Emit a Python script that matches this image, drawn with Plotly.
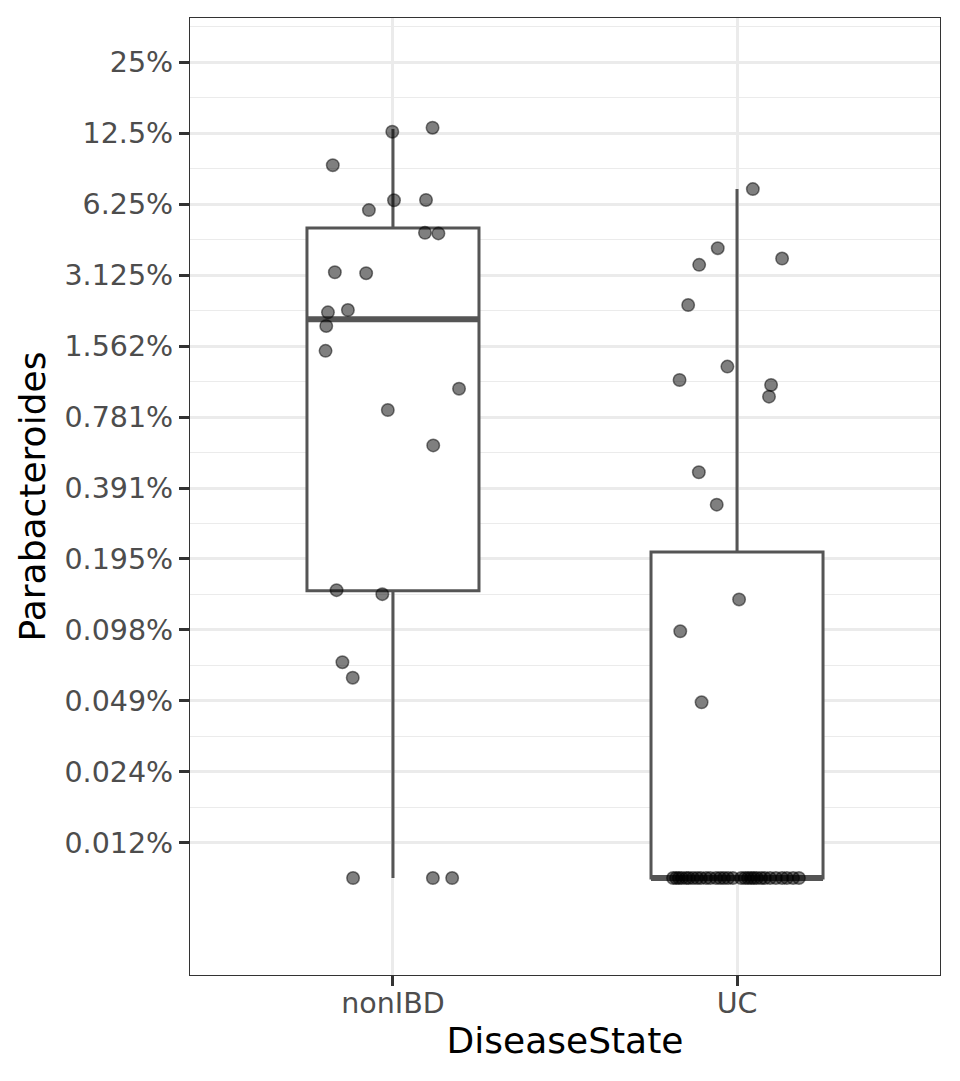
import plotly.graph_objects as go

# Parabacteroides relative abundance (%) by disease state
groups = ["nonIBD", "UC"]

nonibd_vals = [12.66, 13.16, 9.13, 6.48, 6.50, 5.89, 4.72, 4.69, 3.21, 3.18, 2.17, 2.22,
               1.90, 1.49, 1.03, 0.836, 0.592, 0.1441, 0.1386, 0.0713, 0.0613, 0, 0, 0]
nonibd_jit = [-0.002, 0.115, -0.175, 0.003, 0.096, -0.070, 0.093, 0.132, -0.169, -0.078, -0.189, -0.131,
              -0.194, -0.196, 0.192, -0.015, 0.117, -0.164, -0.031, -0.147, -0.117, -0.116, 0.116, 0.172]

uc_vals = [7.23, 4.06, 3.45, 3.67, 2.33, 1.278, 1.121, 1.068, 0.953, 0.4555, 0.332, 0.1316, 0.0964, 0.0482,
           0, 0, 0, 0, 0, 0, 0, 0, 0, 0, 0, 0, 0, 0, 0,
           0, 0, 0, 0, 0, 0, 0, 0, 0, 0, 0, 0, 0, 0, 0]
uc_jit = [0.046, -0.056, -0.110, 0.131, -0.142, -0.028, -0.167, 0.099, 0.093, -0.111, -0.059, 0.006, -0.165, -0.103,
          -0.186, -0.177, -0.169, -0.160, -0.148, -0.140, -0.128, -0.116, -0.105, -0.090, -0.078, -0.061, -0.049, -0.038, -0.026,
          -0.012, 0.012, 0.023, 0.032, 0.041, 0.049, 0.058, 0.070, 0.081, 0.096, 0.113, 0.131, 0.145, 0.163, 0.180]

# box statistics (%)
q1 = [0.1431, 0]
med = [2.03, 0]
q3 = [4.94, 0.2093]
low = [0, 0]
high = [13.0, 7.23]

# zero abundances sit at this floor on the log axis
FLOOR = 0.00867

tick_vals = [25, 12.5, 6.25, 3.125, 1.5625, 0.78125, 0.390625, 0.1953125,
             0.09765625, 0.048828125, 0.0244140625, 0.01220703125]
tick_text = ["25%", "12.5%", "6.25%", "3.125%", "1.562%", "0.781%", "0.391%",
             "0.195%", "0.098%", "0.049%", "0.024%", "0.012%"]
minor_vals = [35.36, 17.68, 8.84, 4.42, 2.21, 1.105, 0.5524, 0.2762,
              0.1381, 0.0691, 0.0345, 0.0173]

def fl(v):
    return [max(x, FLOOR) for x in v]

BOXW = 0.5
LINE = "#555555"

fig = go.Figure()

fig.add_trace(go.Box(
    x=[0, 1], q1=fl(q1), median=fl(med), q3=fl(q3),
    lowerfence=fl(low), upperfence=fl(high),
    width=BOXW, fillcolor="white", line=dict(color=LINE, width=3),
    whiskerwidth=0, showlegend=False, hoverinfo="skip"))

# thicker median bars like ggplot
for i, m in enumerate(fl(med)):
    fig.add_trace(go.Scatter(
        x=[i - BOXW / 2, i + BOXW / 2], y=[m, m], mode="lines",
        line=dict(color=LINE, width=6), showlegend=False, hoverinfo="skip"))

pts_x = [j for j in nonibd_jit] + [1 + j for j in uc_jit]
pts_y = fl(nonibd_vals) + fl(uc_vals)
fig.add_trace(go.Scatter(
    x=pts_x, y=pts_y, mode="markers",
    marker=dict(size=12.5, color="rgba(0,0,0,0.5)",
                line=dict(color="rgba(0,0,0,0.5)", width=1.5)),
    showlegend=False))

# page body adds an 8px offset, margins account for it
fig.update_layout(
    width=960, height=1081,
    margin=dict(l=182, r=28, t=10, b=114),
    plot_bgcolor="white", paper_bgcolor="white",
    font=dict(family="DejaVu Sans", color="black"),
    boxmode="overlay",
)

fig.update_xaxes(
    range=[-0.59, 1.59], tickvals=[0, 1], ticktext=groups,
    ticks="outside", ticklen=10, tickwidth=2.5, tickcolor="#333333",
    tickfont=dict(size=28.5, color="#4D4D4D"), ticklabelstandoff=-7,
    showgrid=True, gridcolor="#EBEBEB", gridwidth=2.6, zeroline=False,
    showline=True, linecolor="#333333", linewidth=1.3, mirror=True,
    title=dict(text="DiseaseState", font=dict(size=36, color="black"), standoff=8))

fig.update_yaxes(
    type="log", range=[-2.4731, 1.5845],
    tickvals=tick_vals, ticktext=tick_text,
    ticks="outside", ticklen=10, tickwidth=2.5, tickcolor="#333333",
    tickfont=dict(size=28.5, color="#4D4D4D"),
    showgrid=True, gridcolor="#EBEBEB", gridwidth=2.6, zeroline=False,
    minor=dict(tickvals=minor_vals, showgrid=True, gridcolor="#EBEBEB", gridwidth=1.3, ticks=""),
    showline=True, linecolor="#333333", linewidth=1.3, mirror=True,
    title=dict(text="Parabacteroides", font=dict(size=36, color="black"), standoff=7))

fig.write_html("out.html")
